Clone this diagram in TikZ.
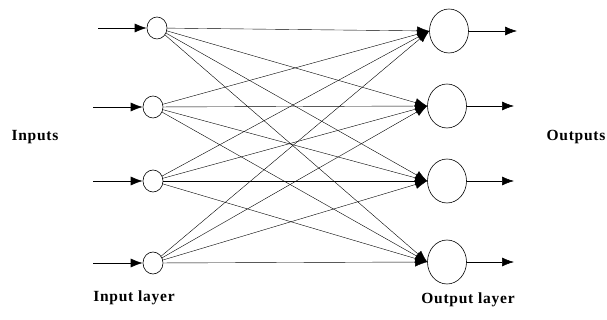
\documentclass[tikz,border=0pt]{standalone}
\usepackage{fontspec}
\setmainfont{Liberation Serif}
\usetikzlibrary{arrows.meta,shapes.geometric}

\begin{document}
\begin{tikzpicture}[x=1pt,y=-1pt,>={Latex[length=12pt,width=9pt]},semithick,
                    in node/.style={ellipse,draw,inner sep=0pt,minimum width=20pt,minimum height=22pt},
                    out node/.style={ellipse,draw,inner sep=0pt,minimum width=39pt,minimum height=44pt},
                    label text/.style={font=\fontsize{15.5}{18}\selectfont\bfseries\addfontfeatures{LetterSpace=5}}]
  \useasboundingbox (0,0) rectangle (607,320);
  % input layer
  \node[in node] (i1) at (157,28) {};
  \node[in node] (i2) at (153,107) {};
  \node[in node] (i3) at (153,181) {};
  \node[in node] (i4) at (153,263) {};
  % output layer
  \node[out node] (o1) at (449,31) {};
  \node[out node] (o2) at (447,106) {};
  \node[out node] (o3) at (447,181) {};
  \node[out node] (o4) at (447,262) {};
  % free ends
  \coordinate (s1) at (98,28);
  \coordinate (s2) at (93,107);
  \coordinate (s3) at (93,181);
  \coordinate (s4) at (93,263);
  \coordinate (t1) at (517,31);
  \coordinate (t2) at (514,106);
  \coordinate (t3) at (514,181);
  \coordinate (t4) at (514,262);
  % labels
  \node[label text] (in)   at (35,137)  {Inputs};
  \node[label text] (out)  at (576,137) {Outputs};
  \node[label text] (inl)  at (134,298) {Input layer};
  \node[label text] (outl) at (468,300) {Output layer};
  \path[->]
    (s1) edge (i1) (s2) edge (i2) (s3) edge (i3) (s4) edge (i4)
    (o1) edge (t1) (o2) edge (t2) (o3) edge (t3) (o4) edge (t4);
  \path[->,thin]
    (i1) edge (o1.west) edge (o2.west) edge (o3.west) edge (o4.west)
    (i2) edge (o1.west) edge (o2.west) edge (o3.west) edge (o4.west)
    (i3) edge (o1.west) edge (o2.west) edge (o3.west) edge (o4.west)
    (i4) edge (o1.west) edge (o2.west) edge (o3.west) edge (o4.west);
\end{tikzpicture}
\end{document}
